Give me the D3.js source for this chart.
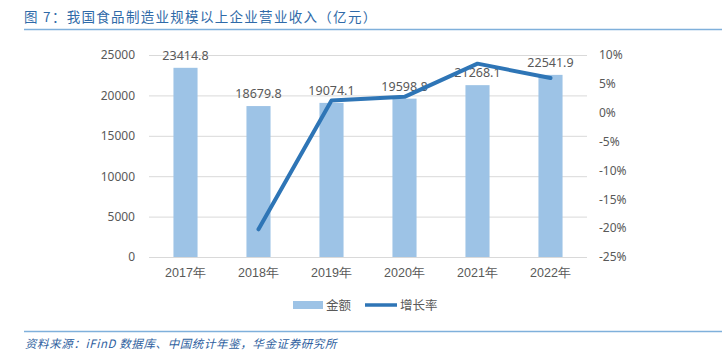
<!DOCTYPE html>
<html><head><meta charset="utf-8">
<script src="https://cdn.jsdelivr.net/npm/d3@7"></script>
<style>body{margin:0;background:#fff;}svg{display:block;font-family:"Noto Sans CJK SC","Noto Sans",sans-serif;}</style>
</head><body><svg id="c" width="722" height="360"></svg>
<script>
const years = ["2017年","2018年","2019年","2020年","2021年","2022年"];
const revenue = [23414.8,18679.8,19074.1,19598.8,21268.1,22541.9];
const growth = [null,-20.2,2.1,2.75,8.5,6.0];
const leftTicks = [0,5000,10000,15000,20000,25000];
const rightTicks = [-25,-20,-15,-10,-5,0,5,10];

const svg = d3.select("#c");
const x = d3.scaleBand().domain(years).range([149,587]).paddingInner(0.67).paddingOuter(0.335);
const y = d3.scaleLinear().domain([0,25000]).range([257,55]);
const y2 = d3.scaleLinear().domain([-25,10]).range([257,55]);

// title
svg.append("text").attr("x",24).attr("y",22).attr("fill","#2f6aa8").attr("font-size",13.5)
  .attr("letter-spacing",1.3)
  .text("图 7：我国食品制造业规模以上企业营业收入（亿元）");
svg.append("line").attr("x1",24).attr("x2",722).attr("y1",29.5).attr("y2",29.5).attr("stroke","#7fb0db").attr("stroke-width",1.5);

// grid
svg.append("g").selectAll("line").data(leftTicks).join("line")
  .attr("x1",149).attr("x2",587).attr("y1",d=>y(d)+0.5).attr("y2",d=>y(d)+0.5)
  .attr("stroke","#d9d9d9").attr("stroke-width",1);

// left axis
const la = svg.append("g").attr("transform","translate(135,0)")
  .call(d3.axisLeft(y).tickValues(leftTicks).tickSize(0).tickPadding(0).tickFormat(d=>String(d)));
la.select(".domain").remove();
la.selectAll("text").attr("fill","#595959").attr("font-size",12).attr("font-family","'Noto Sans','Noto Sans CJK SC',sans-serif");

// right axis
const ra = svg.append("g").attr("transform","translate(599,0)")
  .call(d3.axisRight(y2).tickValues(rightTicks).tickSize(0).tickPadding(0).tickFormat(d=>d+"%"));
ra.select(".domain").remove();
ra.selectAll("text").attr("fill","#595959").attr("font-size",12).attr("font-family","'Noto Sans','Noto Sans CJK SC',sans-serif");

// x axis
const xa = svg.append("g").attr("transform","translate(0,257)")
  .call(d3.axisBottom(x).tickSize(0).tickPadding(11));
xa.select(".domain").remove();
xa.selectAll("text").attr("fill","#595959").attr("font-size",12.5);

// bars
svg.append("g").selectAll("rect").data(revenue).join("rect")
  .attr("x",(d,i)=>x(years[i])).attr("width",x.bandwidth())
  .attr("y",d=>y(d)).attr("height",d=>257-y(d)).attr("fill","#9dc3e6");

// labels
svg.append("g").selectAll("text").data(revenue).join("text")
  .attr("x",(d,i)=>x(years[i])+x.bandwidth()/2).attr("y",d=>y(d)-8)
  .attr("text-anchor","middle").attr("fill","#595959").attr("font-size",12.5)
  .attr("font-family","'Noto Sans','Noto Sans CJK SC',sans-serif")
  .text(d=>d.toFixed(1));

// line
const pts = growth.map((g,i)=>[g,i]).filter(p=>p[0]!==null);
svg.append("path").datum(pts)
  .attr("d",d3.line().x(p=>x(years[p[1]])+x.bandwidth()/2).y(p=>y2(p[0])))
  .attr("fill","none").attr("stroke","#2e75b6").attr("stroke-width",4).attr("stroke-linejoin","round").attr("stroke-linecap","round");

// legend
const lg = svg.append("g");
lg.append("rect").attr("x",293).attr("y",301).attr("width",30).attr("height",8).attr("fill","#9dc3e6");
lg.append("text").attr("x",326).attr("y",310).attr("fill","#595959").attr("font-size",12.5).text("金额");
lg.append("line").attr("x1",365).attr("x2",397).attr("y1",305).attr("y2",305).attr("stroke","#2e75b6").attr("stroke-width",3.5);
lg.append("text").attr("x",400).attr("y",310).attr("fill","#595959").attr("font-size",12.5).text("增长率");

// footer
svg.append("line").attr("x1",24).attr("x2",722).attr("y1",331.5).attr("y2",331.5).attr("stroke","#7fb0db").attr("stroke-width",1.5);
svg.append("text").attr("x",25).attr("y",348).attr("fill","#2f5fa0").attr("font-size",11.5).attr("font-style","italic")
  .attr("letter-spacing",0.6)
  .text("资料来源：iFinD 数据库、中国统计年鉴，华金证券研究所");
</script></body></html>
